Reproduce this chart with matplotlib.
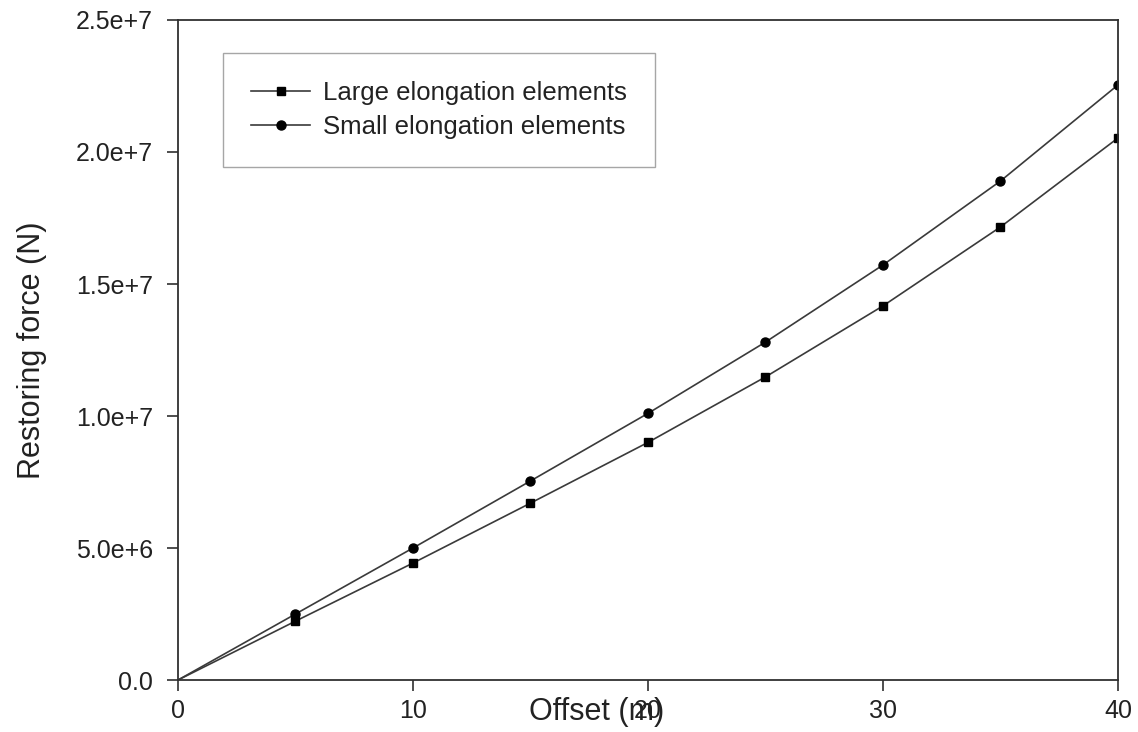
import numpy as np
import matplotlib.pyplot as plt

plt.rcParams['font.family'] = ['Liberation Sans', 'DejaVu Sans']

offset = [0, 5, 10, 15, 20, 25, 30, 35, 40]
large_elong = [0, 2.23e6, 4.43e6, 6.70e6, 9.00e6, 11.48e6, 14.17e6, 17.16e6, 20.53e6]
small_elong = [0, 2.50e6, 5.00e6, 7.54e6, 10.10e6, 12.80e6, 15.72e6, 18.90e6, 22.54e6]

yticks = [0, 5e6, 1e7, 1.5e7, 2e7, 2.5e7]
ytick_labels = ['0.0', '5.0e+6', '1.0e+7', '1.5e+7', '2.0e+7', '2.5e+7']
xticks = [0, 10, 20, 30, 40]

fig = plt.figure(figsize=(11.38, 7.32), dpi=100)
ax = fig.add_axes([0.1564, 0.0710, 0.8260, 0.9017])

line_c = '#3a3a3a'
ax.plot(offset, large_elong, color=line_c, lw=1.2, marker='s', ms=5.5,
        mfc='black', mec='black', markevery=range(1, len(offset)),
        label='Large elongation elements')
ax.plot(offset, small_elong, color=line_c, lw=1.2, marker='o', ms=6.5,
        mfc='black', mec='black', markevery=range(1, len(offset)),
        label='Small elongation elements')

ax.set_xlim(0, 40)
ax.set_ylim(0, 2.5e7)
ax.set_xticks(xticks)
ax.set_xticklabels([str(t) for t in xticks])
ax.set_yticks(yticks)
ax.set_yticklabels(ytick_labels)

for s in ax.spines.values():
    s.set_linewidth(1.3)
    s.set_color('#303030')
ax.tick_params(direction='out', length=8, width=1.2, color='#303030',
               labelsize=18, labelcolor='#222222')
ax.tick_params(axis='x', pad=6)
ax.tick_params(axis='y', pad=10)

ax.set_xlabel('Offset (m)', fontsize=22, color='#222222')
ax.set_ylabel('Restoring force (N)', fontsize=22, color='#222222')
ax.xaxis.set_label_coords(0.445, -0.048)
ax.yaxis.set_label_coords(-0.139, 0.5)
ax.xaxis.label.set_va('center')

leg = ax.legend(loc='upper left', bbox_to_anchor=(0.048, 0.95), fontsize=18.5,
                frameon=True, fancybox=False, borderpad=1.1, labelspacing=0.38,
                handlelength=2.3, handletextpad=0.5, borderaxespad=0)
leg.get_frame().set_edgecolor('#909090')
leg.get_frame().set_linewidth(1.0)
for t in leg.get_texts():
    t.set_color('#222222')

fig.savefig('out.png', dpi=100)
